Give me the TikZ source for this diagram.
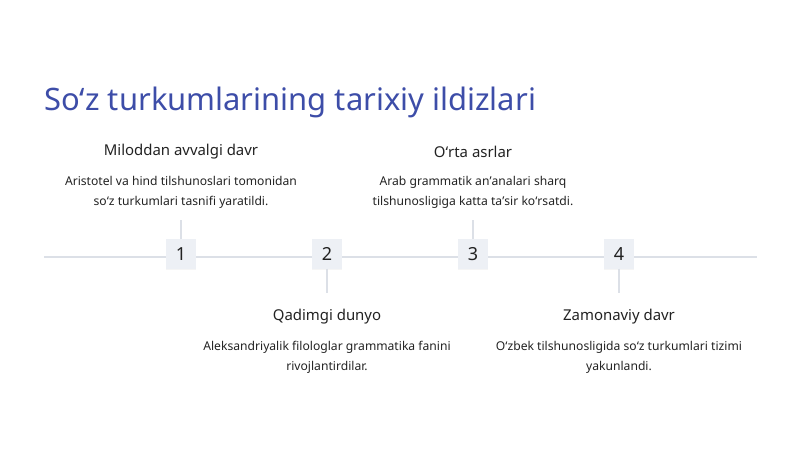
\documentclass[tikz,border=0pt]{standalone}
\usepackage{fontspec}
\setmainfont{Noto Sans}
\usetikzlibrary{positioning,shadows}
\definecolor{titleblue}{HTML}{3D4DA8}
\definecolor{axisgray}{HTML}{DCE0E7}
\definecolor{boxgray}{HTML}{EDF0F5}
\definecolor{textdark}{HTML}{222222}
\tikzstyle{numbox} = [rectangle, fill=boxgray, minimum width=22pt, minimum height=22pt, inner sep=0pt, text=textdark, font=\fontsize{13.5}{16}\selectfont, drop shadow={opacity=0.08, shadow xshift=0pt, shadow yshift=-1pt}]
\tikzstyle{heading} = [text=textdark, font=\fontsize{11.2}{14}\selectfont, inner sep=0pt]
\tikzstyle{desc} = [text=textdark, align=center, font=\fontsize{9.1}{14.8}\selectfont, inner sep=0pt]
\tikzstyle{tick} = [draw=axisgray, line width=0.8pt]

\begin{document}
\begin{tikzpicture}[x=0.75pt, y=-0.75pt]
    \useasboundingbox (0,0) rectangle (800,450);
    \node [anchor=base west, text=titleblue, inner sep=0pt, font=\fontsize{23.2}{28}\selectfont] (title) at (44,110) {Soʻz turkumlarining tarixiy ildizlari};
    \coordinate (start) at (44,257);
    \coordinate (end) at (757,257);
    \draw [axisgray, line width=1.5pt] (start) -- (end);
    \node [numbox] (n1) at (181,254) {1};
    \node [numbox] (n2) at (327,254) {2};
    \node [numbox] (n3) at (473,254) {3};
    \node [numbox] (n4) at (619,254) {4};
    \coordinate (t1) at (181,220);
    \coordinate (t2) at (327,293);
    \coordinate (t3) at (473,220);
    \coordinate (t4) at (619,293);
    \path [tick] (n1.north) -- (t1);
    \path [tick] (n2.south) -- (t2);
    \path [tick] (n3.north) -- (t3);
    \path [tick] (n4.south) -- (t4);
    \node [heading] (h1) at (181,152) {Miloddan avvalgi davr};
    \node [desc] (d1) at (181,192) {Aristotel va hind tilshunoslari tomonidan\\soʻz turkumlari tasnifi yaratildi.};
    \node [heading] (h3) at (473,152) {Oʻrta asrlar};
    \node [desc] (d3) at (473,192) {Arab grammatik anʼanalari sharq\\tilshunosligiga katta taʼsir koʻrsatdi.};
    \node [heading] (h2) at (327,317) {Qadimgi dunyo};
    \node [desc] (d2) at (327,357) {Aleksandriyalik filologlar grammatika fanini\\rivojlantirdilar.};
    \node [heading] (h4) at (619,317) {Zamonaviy davr};
    \node [desc] (d4) at (619,357) {Oʻzbek tilshunosligida soʻz turkumlari tizimi\\yakunlandi.};
\end{tikzpicture}
\end{document}
